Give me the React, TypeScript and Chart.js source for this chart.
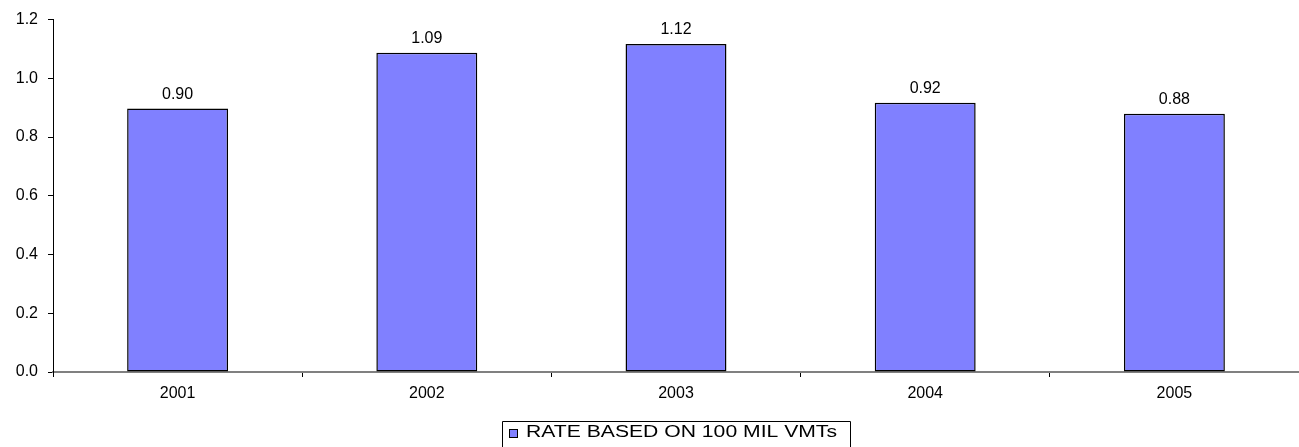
import React, { useEffect, useRef } from "react";
import { Chart, registerables } from "chart.js";

Chart.register(...registerables);

const categories = ["2001", "2002", "2003", "2004", "2005"];
const rateValues = [0.897, 1.087, 1.117, 0.917, 0.879];
const seriesLabel = "RATE BASED ON 100 MIL VMTs";
const yTicks = [0, 0.2, 0.4, 0.6, 0.8, 1.0, 1.2];

const FONT = "Arial, 'Liberation Sans', Helvetica, sans-serif";
const BAR_COLOR = "#8080FF";

const dataLabelPlugin = {
  id: "dataLabels",
  afterDatasetsDraw(chart: any) {
    const ctx = chart.ctx;
    const meta = chart.getDatasetMeta(0);
    ctx.save();
    ctx.font = `16px ${FONT}`;
    ctx.fillStyle = "#000";
    ctx.textAlign = "center";
    ctx.textBaseline = "alphabetic";
    meta.data.forEach((el: any, i: number) => {
      const v = chart.data.datasets[0].data[i] as number;
      ctx.fillText(v.toFixed(2), el.x, el.y - 10);
    });
    ctx.restore();
  },
};

const legendPlugin = {
  id: "customLegend",
  afterDraw(chart: any) {
    const ctx = chart.ctx;
    const boxLeft = 502.5;
    const boxTop = 421.5;
    const boxRight = 850.5;
    ctx.save();
    ctx.strokeStyle = "#000";
    ctx.lineWidth = 1;
    ctx.beginPath();
    ctx.moveTo(boxLeft, chart.height + 5);
    ctx.lineTo(boxLeft, boxTop);
    ctx.lineTo(boxRight, boxTop);
    ctx.lineTo(boxRight, chart.height + 5);
    ctx.stroke();
    // marker
    ctx.fillStyle = BAR_COLOR;
    ctx.fillRect(509.5, 429.5, 8, 8);
    ctx.strokeStyle = "#000";
    ctx.strokeRect(509.5, 429.5, 8, 8);
    // text
    ctx.font = `16px ${FONT}`;
    ctx.fillStyle = "#000";
    ctx.textBaseline = "alphabetic";
    ctx.textAlign = "left";
    const w = ctx.measureText(seriesLabel).width;
    const sx = 311 / w;
    ctx.translate(526, 437);
    ctx.scale(sx, 1);
    ctx.fillText(seriesLabel, 0, 0);
    ctx.restore();
  },
};

export default function App() {
  const canvasRef = useRef<HTMLCanvasElement | null>(null);

  useEffect(() => {
    document.body.style.margin = "0";
    const canvas = canvasRef.current;
    if (!canvas) return;
    const chart = new Chart(canvas, {
      type: "bar",
      data: {
        labels: categories,
        datasets: [
          {
            label: seriesLabel,
            data: rateValues,
            backgroundColor: BAR_COLOR,
            borderColor: "#000",
            borderWidth: 1.5,
            borderSkipped: false,
            categoryPercentage: 1,
            barPercentage: 0.405,
          },
        ],
      },
      options: {
        responsive: false,
        animation: false,
        layout: { padding: { top: 16, left: 0, right: 0, bottom: 0 } },
        plugins: {
          legend: { display: false },
          tooltip: { enabled: false },
          title: { display: false },
        },
        scales: {
          x: {
            offset: true,
            afterFit: (scale: any) => {
              scale.height = 75;
            },
            grid: {
              display: true,
              offset: true,
              drawOnChartArea: false,
              drawTicks: true,
              tickLength: 5,
              color: "#000",
            },
            border: { display: true, color: "#808080", width: 2 },
            ticks: {
              color: "#000",
              font: { family: FONT, size: 16 },
              padding: 7,
              maxRotation: 0,
            },
          },
          y: {
            min: 0,
            max: 1.2,
            afterFit: (scale: any) => {
              scale.width = 53;
            },
            afterBuildTicks: (scale: any) => {
              scale.ticks = yTicks.map((v) => ({ value: v }));
            },
            grid: {
              display: true,
              drawOnChartArea: false,
              drawTicks: true,
              tickLength: 5,
              color: "#000",
            },
            border: { display: true, color: "#000", width: 1 },
            ticks: {
              color: "#000",
              font: { family: FONT, size: 16 },
              padding: 10,
              callback: (v: any) => Number(v).toFixed(1),
            },
          },
        },
      },
      plugins: [dataLabelPlugin, legendPlugin],
    });
    return () => chart.destroy();
  }, []);

  return (
    <canvas
      ref={canvasRef}
      width={1299}
      height={447}
      style={{ display: "block", width: "1299px", height: "447px" }}
    />
  );
}
